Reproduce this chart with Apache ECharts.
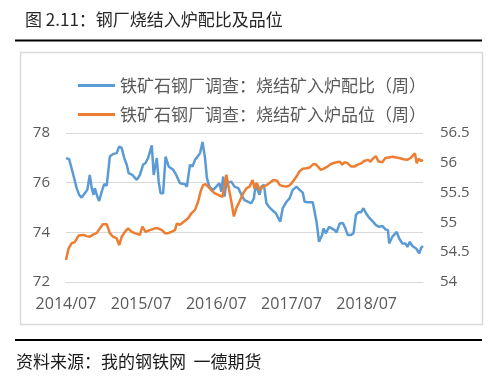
<!DOCTYPE html>
<html>
<head>
<meta charset="utf-8">
<script src="https://cdn.jsdelivr.net/npm/echarts@6/dist/echarts.min.js"></script>
<style>
html,body{margin:0;padding:0;background:#fff;}
#c{width:500px;height:383px;}
</style>
</head>
<body>
<div id="c"></div>
<script>
// X positions: months since 2014/07 (weekly data, sampled)
const ratioMonths = [0,0.5,1.1,1.4,1.7,2.1,2.5,3.0,3.4,3.8,4.1,4.4,4.6,5.0,5.3,5.7,6.1,6.5,7.0,7.5,8.1,8.5,8.9,9.3,9.7,10.0,10.6,11.3,11.8,12.3,12.7,13.1,13.7,14.0,14.5,14.8,15.1,15.5,15.9,16.4,17.1,17.6,18.2,19.0,19.3,19.8,20.2,20.6,20.9,21.4,21.8,22.2,22.5,22.9,23.5,24.0,24.5,24.8,25.1,25.3,25.6,26.4,26.9,27.5,28.0,28.5,29.1,29.6,30.0,30.3,30.6,30.9,31.2,31.6,32.0,32.4,32.9,33.5,33.8,34.2,34.6,35.2,35.7,36.2,36.8,37.3,37.8,38.1,38.6,39.4,40.0,40.4,40.9,41.1,41.5,42.0,42.3,42.9,43.2,43.7,44.2,44.6,45.0,45.5,45.9,46.3,46.7,47.1,47.5,47.9,48.4,49.0,49.5,50.0,50.5,51.0,51.4,51.6,52.1,52.4,52.8,53.2,53.7,54.2,54.5,54.9,55.3,55.9,56.4,56.7,57.0];
// 铁矿石钢厂调查：烧结矿入炉配比（周） – left axis
const ratioValues = [76.99,76.95,76.38,76.34,75.78,75.51,75.40,75.57,75.71,76.31,75.78,75.51,75.78,75.44,75.26,75.64,75.94,75.88,77.05,77.15,77.19,77.46,77.39,76.99,76.72,76.38,76.31,76.11,76.31,76.72,76.79,76.99,77.50,76.31,76.99,76.04,75.57,75.57,77.05,76.65,76.52,76.31,75.98,75.94,75.84,76.72,76.65,76.92,77.01,77.19,77.64,76.99,76.18,75.84,75.71,75.84,75.98,75.64,76.25,75.44,75.98,76.04,75.84,75.78,75.51,75.30,75.23,75.17,75.37,75.98,75.71,75.51,75.84,75.91,75.17,75.03,74.90,74.77,74.83,74.43,74.97,75.23,75.37,75.71,75.84,75.71,75.60,75.23,75.21,75.21,74.43,73.62,73.89,74.16,73.96,74.22,74.29,74.09,74.00,74.36,74.38,74.16,73.89,73.89,73.96,74.70,74.81,74.81,74.97,74.77,74.59,74.43,74.29,74.22,74.26,74.12,74.09,73.55,73.82,73.75,74.02,73.75,73.55,73.55,73.41,73.62,73.45,73.35,73.15,73.37,73.45];

const gradeMonths = [0,0.4,0.9,1.4,2.0,2.8,3.3,3.8,4.4,4.9,5.4,5.9,6.5,7.0,7.5,8.1,8.5,8.9,9.4,9.9,10.5,11.0,11.8,12.2,12.7,13.4,14.2,14.7,15.3,15.8,16.3,16.8,17.4,17.7,18.2,18.8,19.5,20.0,20.6,21.1,21.5,21.9,22.3,22.7,23.2,23.7,24.3,25.0,25.3,25.6,26.0,26.4,26.8,27.2,27.7,28.3,28.8,29.3,29.8,30.1,30.5,30.9,31.4,32.1,32.6,33.1,33.7,34.1,34.6,35.2,35.7,36.2,36.8,37.3,37.8,38.4,38.9,39.4,39.8,40.2,40.7,41.3,41.8,42.3,42.9,43.2,43.7,44.1,44.5,45.0,45.5,46.1,46.6,47.1,47.6,48.2,48.6,49.1,49.5,49.9,50.5,51.0,51.5,52.2,52.7,53.2,53.9,54.5,55.0,55.3,55.7,56.0,56.3,56.7,57.0];
// 铁矿石钢厂调查：烧结矿入炉品位（周） – right axis
const gradeValues = [54.37,54.56,54.65,54.67,54.78,54.79,54.77,54.76,54.80,54.82,54.90,54.97,54.97,54.82,54.76,54.73,54.62,54.76,54.84,54.90,54.84,54.82,54.79,54.93,54.84,54.87,54.90,54.90,54.87,54.82,54.82,54.84,54.87,54.98,54.96,55.01,55.07,55.15,55.21,55.35,55.52,55.63,55.64,55.60,55.54,55.49,55.46,55.43,55.40,55.80,55.57,55.35,55.10,55.24,55.35,55.49,55.57,55.60,55.71,55.57,55.66,55.54,55.60,55.63,55.67,55.71,55.70,55.63,55.61,55.60,55.62,55.68,55.77,55.86,55.90,55.91,55.92,55.97,55.98,55.94,55.88,55.91,55.94,55.98,56.00,55.98,56.02,55.97,56.01,55.99,55.94,55.94,55.97,55.99,56.03,56.05,56.02,56.08,56.11,56.02,56.01,56.08,56.09,56.10,56.09,56.08,56.06,56.05,56.08,56.05,56.16,55.99,56.07,56.03,56.05];

const seriesNames = ['铁矿石钢厂调查：烧结矿入炉配比（周）','铁矿石钢厂调查：烧结矿入炉品位（周）'];
const xTickStartYear = 2014;
const titleText = '图 2.11：钢厂烧结入炉配比及品位';
const sourceText = '资料来源：我的钢铁网  一德期货';

const chart = echarts.init(document.getElementById('c'), null, {renderer:'canvas'});
const cjk = '"Noto Sans CJK SC", sans-serif';
const num = '"Open Sans", sans-serif';
const labelColor = '#595959';

const option = {
  animation: false,
  backgroundColor: '#fff',
  grid: {left: 66, right: 77, top: 133, bottom: 101, containLabel: false},
  legend: {
    orient: 'vertical', left: 73, top: 72,
    icon: 'rect', itemWidth: 37, itemHeight: 3, itemGap: 12,
    textStyle: {fontFamily: cjk, fontSize: 17, color: labelColor},
    data: seriesNames
  },
  xAxis: {
    type: 'value', min: 0, max: 57, interval: 12,
    axisLine: {show: true, lineStyle: {color: '#d9d9d9'}},
    axisTick: {show: false},
    splitLine: {show: false},
    axisLabel: {
      fontFamily: num, fontSize: 16, color: labelColor, margin: 14,
      showMaxLabel: false,
      formatter: v => (v % 12 === 0 ? (xTickStartYear + v / 12) + '/07' : '')
    }
  },
  yAxis: [{
    type: 'value', min: 72, max: 78, interval: 2, position: 'left',
    axisLine: {show: false}, axisTick: {show: false},
    splitLine: {lineStyle: {color: '#d9d9d9', width: 1}},
    axisLabel: {fontFamily: num, fontSize: 15, color: labelColor, margin: 16}
  }, {
    type: 'value', min: 54, max: 56.5, interval: 0.5, position: 'right',
    axisLine: {show: false}, axisTick: {show: false},
    splitLine: {show: false},
    axisLabel: {fontFamily: num, fontSize: 15, color: labelColor, margin: 17}
  }],
  series: [{
    name: seriesNames[0], type: 'line', yAxisIndex: 0,
    symbol: 'none', lineStyle: {color: '#5B9BD5', width: 2.5}, itemStyle: {color: '#5B9BD5'},
    data: ratioMonths.map((m, i) => [m, ratioValues[i]])
  }, {
    name: seriesNames[1], type: 'line', yAxisIndex: 1,
    symbol: 'none', lineStyle: {color: '#ED7D31', width: 2.5}, itemStyle: {color: '#ED7D31'},
    data: gradeMonths.map((m, i) => [m, gradeValues[i]])
  }],
  graphic: [
    {type: 'rect', z: -1, shape: {x: 20.5, y: 52.5, width: 462, height: 272}, style: {fill: 'none', stroke: '#d9d9d9', lineWidth: 1.5}},
    {type: 'line', shape: {x1: 15, y1: 40.5, x2: 482, y2: 40.5}, style: {stroke: '#000', lineWidth: 2}},
    {type: 'line', shape: {x1: 15, y1: 340, x2: 482, y2: 340}, style: {stroke: '#000', lineWidth: 2}},
    {type: 'text', x: 25, y: 20, style: {text: titleText, fontFamily: cjk, fontSize: 17, fill: '#262626', verticalAlign: 'middle', align: 'left'}},
    {type: 'text', x: 16, y: 362, style: {text: sourceText, fontFamily: cjk, fontSize: 17, fill: '#1a1a1a', verticalAlign: 'middle', align: 'left'}}
  ]
};
chart.setOption(option);
</script>
</body>
</html>
